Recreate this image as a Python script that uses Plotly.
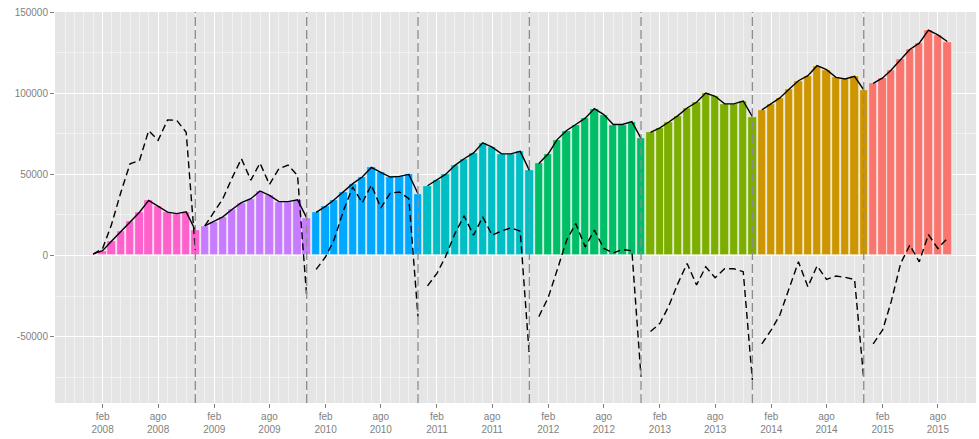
import plotly.graph_objects as go
import pandas as pd

# ---------------- data ----------------
years = [2008, 2009, 2010, 2011, 2012, 2013, 2014, 2015]

bars_2008 = [1000, 3000, 8800, 15000, 21100, 26700, 34000, 30300, 26700, 25800, 26900, 15600]
bars_2009 = [18200, 20900, 23800, 28500, 32600, 35000, 39800, 37100, 33200, 33200, 34400, 23200]
bars_2010 = [26600, 30300, 34400, 39200, 44300, 48400, 54300, 51300, 48400, 48800, 50000, 38100]
bars_2011 = [43000, 46700, 50000, 55600, 59700, 63300, 69500, 66800, 62700, 62700, 64200, 52500]
bars_2012 = [56800, 62700, 71500, 77100, 80800, 84700, 90600, 86900, 80800, 80800, 82600, 72200]
bars_2013 = [76000, 78700, 82200, 86300, 91000, 94500, 100200, 98200, 93500, 93500, 95300, 85700]
bars_2014 = [89800, 93500, 97200, 102700, 107800, 110900, 117100, 114600, 109900, 108900, 110500, 102100]
bars_2015 = [106200, 109500, 114400, 121200, 127100, 131000, 139000, 136100, 132000]

diff_2008 = [800, 4300, 19000, 39000, 56600, 58600, 77000, 71000, 83600, 83400, 76000, 3500]
diff_2009 = [18200, 27000, 35000, 48000, 59700, 46500, 57000, 43800, 53500, 55700, 49400, -25000]
diff_2010 = [-8600, -800, 9800, 27900, 42200, 32400, 43500, 29300, 38500, 39200, 35000, -37700]
diff_2011 = [-18700, -11000, -800, 13500, 24400, 12500, 23800, 12500, 15200, 17000, 15000, -62300]
diff_2012 = [-37700, -25800, -9000, 9400, 19700, 5300, 15600, 4300, 1600, 3700, 2900, -75000]
diff_2013 = [-46900, -41800, -31600, -17200, -4900, -18200, -7000, -13700, -8200, -8200, -10000, -77000]
diff_2014 = [-54500, -45900, -36700, -20300, -3900, -19300, -6400, -14800, -12700, -13500, -14800, -76000]
diff_2015 = [-54500, -45900, -28500, -4900, 6400, -3900, 12900, 4300, 10500]

bars = [bars_2008, bars_2009, bars_2010, bars_2011, bars_2012, bars_2013, bars_2014, bars_2015]
diffs = [diff_2008, diff_2009, diff_2010, diff_2011, diff_2012, diff_2013, diff_2014, diff_2015]
colors = ["#FF61CC", "#C77CFF", "#00A9FF", "#00BFC4", "#00BE67", "#7CAE00", "#CD9600", "#F8766D"]

tick_dates = ["2008-02-01", "2008-08-01", "2009-02-01", "2009-08-01", "2010-02-01", "2010-08-01",
              "2011-02-01", "2011-08-01", "2012-02-01", "2012-08-01", "2013-02-01", "2013-08-01",
              "2014-02-01", "2014-08-01", "2015-02-01", "2015-08-01"]
tick_labels = ["feb<br>2008", "ago<br>2008", "feb<br>2009", "ago<br>2009", "feb<br>2010", "ago<br>2010",
               "feb<br>2011", "ago<br>2011", "feb<br>2012", "ago<br>2012", "feb<br>2013", "ago<br>2013",
               "feb<br>2014", "ago<br>2014", "feb<br>2015", "ago<br>2015"]
y_ticks = [-50000, 0, 50000, 100000, 150000]
y_labels = ["-50000", "0", "50000", "100000", "150000"]

# ---------------- figure ----------------
fig = go.Figure()
DAY = 86400000

for yr, b, d, c in zip(years, bars, diffs, colors):
    dates = pd.date_range(f"{yr}-01-01", periods=len(b), freq="MS")
    fig.add_trace(go.Bar(x=dates, y=b, width=[27.5 * DAY] * len(b),
                         marker=dict(color=c, line=dict(color="white", width=0.6))))

for yr, b, d in zip(years, bars, diffs):
    dates = pd.date_range(f"{yr}-01-01", periods=len(b), freq="MS")
    fig.add_trace(go.Scatter(x=dates, y=b, mode="lines",
                             line=dict(color="black", width=1.4)))
    fig.add_trace(go.Scatter(x=dates, y=d, mode="lines",
                             line=dict(color="black", width=1.4, dash="7px,4px")))

for yr in years[:-1]:
    fig.add_shape(type="line", xref="x", yref="paper", x0=f"{yr}-12-01", x1=f"{yr}-12-01",
                  y0=0, y1=1, line=dict(color="#8C8C8C", width=1.3, dash="9px,4px"))

axis_font = dict(family="Liberation Sans, Arial, sans-serif", size=10, color="#7F7F7F")

fig.update_layout(
    width=979, height=439,
    margin=dict(l=55, r=3, t=12, b=36),
    paper_bgcolor="white", plot_bgcolor="#E5E5E5",
    showlegend=False, barmode="overlay", bargap=0,
    font=dict(family="Liberation Sans, Arial, sans-serif"),
    xaxis=dict(type="date", range=["2007-08-29", "2015-12-04"],
               tickmode="array", tickvals=tick_dates, ticktext=tick_labels,
               ticks="outside", ticklen=4, tickcolor="#7F7F7F", tickfont=axis_font,
               showgrid=True, gridcolor="white", gridwidth=1.1, zeroline=False, showline=False,
               minor=dict(tick0="2008-01-01", dtick="M1", showgrid=True,
                          gridcolor="#F2F2F2", gridwidth=0.6)),
    yaxis=dict(range=[-91000, 150200], tickmode="array", tickvals=y_ticks, ticktext=y_labels,
               ticks="outside", ticklen=4, tickcolor="#7F7F7F", tickfont=axis_font,
               showgrid=True, gridcolor="white", gridwidth=1.1, zeroline=False, showline=False,
               minor=dict(tick0=-75000, dtick=25000, showgrid=True,
                          gridcolor="#F2F2F2", gridwidth=0.6)),
)

fig.write_html("out.html", config={"displayModeBar": False},
               post_script="document.body.style.margin='0';")
